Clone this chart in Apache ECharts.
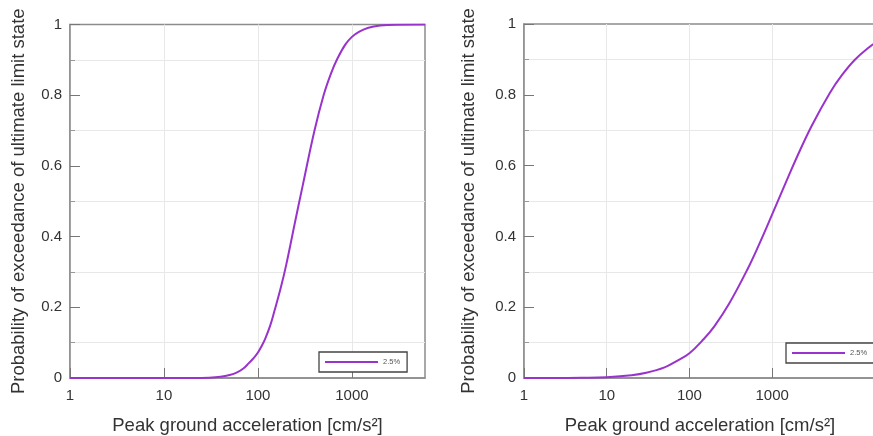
<!DOCTYPE html>
<html>
<head>
<meta charset="utf-8">
<script src="https://cdn.jsdelivr.net/npm/echarts@6/dist/echarts.min.js"></script>
<style>
  html, body { margin: 0; padding: 0; background: #fff; }
  #chart { width: 873px; height: 436px; }
</style>
</head>
<body>
<div id="chart"></div>
<script>
// Fragility curves: probability of exceeding the ultimate limit state vs PGA
const seriesName = '2.5%';
const xTickValues = [1, 10, 100, 1000];

// left panel: PGA (cm/s²) and probability of exceedance
const pgaLeft = [1, 10, 20, 30, 40, 50, 60, 70, 80, 90, 100, 110, 120, 135, 150, 175, 200, 250, 300, 400, 500, 600, 700, 850, 1000, 1200, 1500, 2000, 3000, 6000];
const probLeft = [0, 0, 0.0001, 0.001, 0.0035, 0.0085, 0.016, 0.027, 0.042, 0.056, 0.072, 0.091, 0.112, 0.148, 0.19, 0.255, 0.32, 0.445, 0.545, 0.70, 0.80, 0.862, 0.903, 0.943, 0.965, 0.98, 0.991, 0.997, 0.9995, 1];

// right panel
const pgaRight = [1, 3, 5, 10, 20, 30, 50, 70, 100, 150, 200, 300, 500, 700, 1000, 1500, 2000, 3000, 5000, 7000, 10000, 15000, 18000];
const probRight = [0, 0.0002, 0.0006, 0.0023, 0.0077, 0.0146, 0.03, 0.048, 0.07, 0.111, 0.146, 0.209, 0.306, 0.379, 0.462, 0.558, 0.625, 0.712, 0.806, 0.856, 0.899, 0.935, 0.948];

const xMaxLeft = 6000;
const xMaxRight = 18000;

const FONT = '"Liberation Sans", Arial, sans-serif';
const TEXT = '#333333';
const FRAME = '#8c8c8c';
const GRID_LINE = '#e8e8e8';
const PURPLE = '#9933cc';

function zip(xs, ys) { return xs.map((x, i) => [x, ys[i]]); }

function xAxis(gridIndex, max) {
  return {
    type: 'log', logBase: 10, gridIndex, min: 1, max,
    name: 'Peak ground acceleration [cm/s²]',
    nameLocation: 'middle', nameGap: 38,
    nameTextStyle: { fontFamily: FONT, fontSize: 18.5, color: TEXT },
    axisLine: { show: true, lineStyle: { color: FRAME, width: 1.5 } },
    axisTick: { show: true, inside: true, length: 10, customValues: xTickValues, lineStyle: { color: '#777', width: 1 } },
    axisLabel: { fontFamily: FONT, fontSize: 15, color: TEXT, margin: 10, customValues: xTickValues,
      formatter: v => String(Math.round(v)) },
    splitLine: { show: true, lineStyle: { color: GRID_LINE, width: 1 } },
    minorTick: { show: false }
  };
}

function yAxis(gridIndex, gap) {
  return {
    type: 'value', gridIndex, min: 0, max: 1, interval: 0.2,
    name: 'Probability of exceedance of ultimate limit state',
    nameLocation: 'middle', nameGap: gap, nameRotate: 90,
    nameTextStyle: { fontFamily: FONT, fontSize: 18.5, color: TEXT },
    axisLine: { show: true, lineStyle: { color: FRAME, width: 1.5 } },
    axisTick: { show: true, inside: true, length: 10, lineStyle: { color: '#777', width: 1 } },
    minorTick: { show: true, splitNumber: 2, length: 5, lineStyle: { color: '#999', width: 1 } },
    axisLabel: { fontFamily: FONT, fontSize: 15, color: TEXT, margin: 8,
      formatter: v => (v === 0 || v === 1) ? String(v) : v.toFixed(1) },
    splitLine: { show: false },
    minorSplitLine: { show: true, lineStyle: { color: GRID_LINE, width: 1 } }
  };
}

function legend(left, top) {
  return {
    data: [{ name: seriesName, icon: 'rect' }], left, top, orient: 'horizontal',
    itemWidth: 53, itemHeight: 2, padding: [5, 7, 5, 6],
    backgroundColor: '#fff', borderColor: '#444', borderWidth: 1.3, borderRadius: 0,
    itemStyle: { color: PURPLE, borderWidth: 0 },
    textStyle: { fontFamily: FONT, fontSize: 7.5, lineHeight: 10, color: '#555' },
    selectedMode: false
  };
}

function lineSeries(xAxisIndex, yAxisIndex, data) {
  return {
    type: 'line', name: seriesName, xAxisIndex, yAxisIndex, data,
    smooth: 0.4, symbol: 'none', showSymbol: false,
    lineStyle: { color: PURPLE, width: 2 }, itemStyle: { color: PURPLE },
    animation: false, z: 3
  };
}

const chart = echarts.init(document.getElementById('chart'), null, { renderer: 'canvas' });
chart.setOption({
  backgroundColor: '#fff',
  animation: false,
  grid: [
    { left: 70, right: 448, top: 24.5, bottom: 58, show: true, borderColor: FRAME, borderWidth: 1.5, backgroundColor: 'transparent', outerBoundsMode: 'none' },
    { left: 524, right: -3, top: 24, bottom: 58, show: true, borderColor: FRAME, borderWidth: 1.5, backgroundColor: 'transparent', outerBoundsMode: 'none' }
  ],
  xAxis: [xAxis(0, xMaxLeft), xAxis(1, xMaxRight)],
  yAxis: [yAxis(0, 42), yAxis(1, 46)],
  legend: [legend(319, 352), legend(786, 343)],
  series: [
    lineSeries(0, 0, zip(pgaLeft, probLeft)),
    lineSeries(1, 1, zip(pgaRight, probRight))
  ]
});
</script>
</body>
</html>
